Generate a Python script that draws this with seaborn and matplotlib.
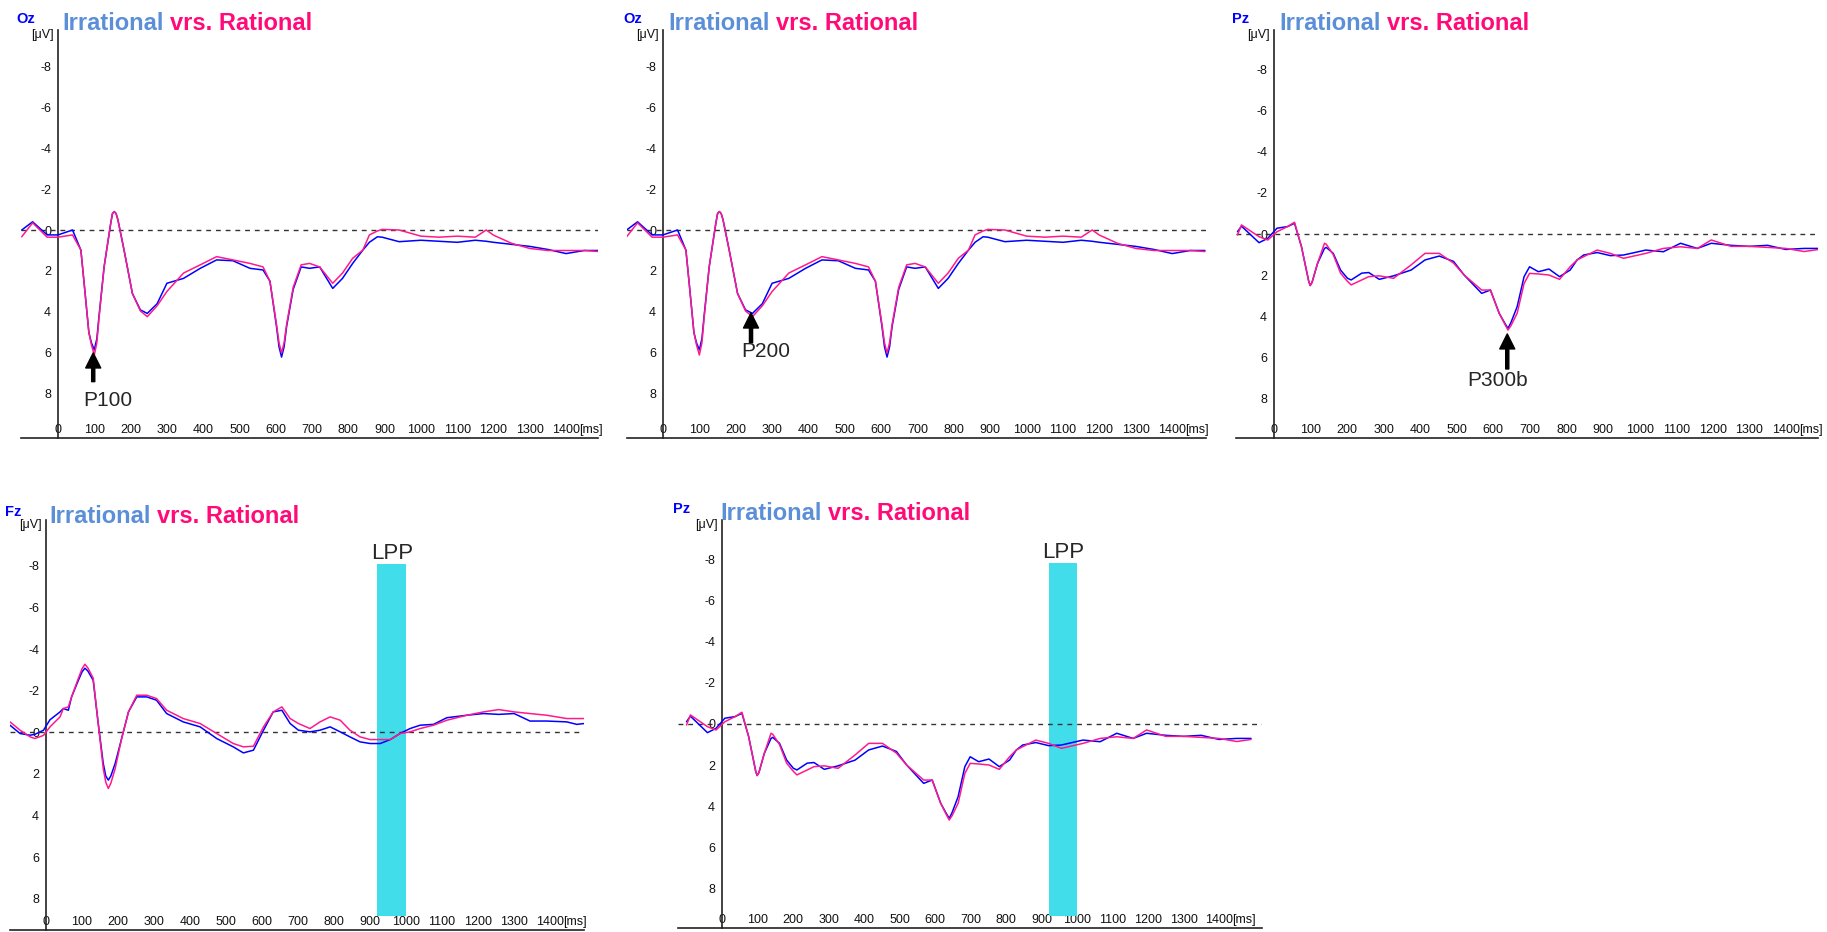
import matplotlib
matplotlib.use("Agg")
import matplotlib.pyplot as plt
import pandas as pd
import seaborn as sns

W, H = 1827, 932

BLUE = "#0000FF"
PINK = "#FF1A8C"
TITLE_BLUE = "#5B8FD8"
TITLE_PINK = "#FF0A78"
CYAN = "#42DDEB"

# Oz (occipital) grand averages, microvolts, negative plotted up
oz_t = [-100, -70, -30, 0, 40, 63, 72, 85, 92, 100, 107, 113, 127, 134, 145, 150, 155, 160, 165, 182,
        205, 227, 246, 273, 300, 346, 392, 437, 482, 529, 565, 584, 602, 609, 616, 623, 630,
        648, 670, 693, 721, 757, 784, 812, 840, 858, 880, 893, 940, 1000, 1050, 1100,
        1150, 1180, 1200, 1250, 1300, 1350, 1400, 1450, 1490]
oz_irr = [0.0, -0.4, 0.24, 0.24, 0.0, 0.98, 2.6, 5.0, 5.5, 5.85, 5.3, 4.2, 1.8, 0.98, -0.3, -0.8, -0.9, -0.8, -0.5, 0.98,
          3.1, 3.9, 4.07, 3.6, 2.6, 2.36, 1.87, 1.46, 1.5, 1.87, 1.95, 2.5, 4.7, 5.7, 6.2, 5.7, 4.7,
          2.9, 1.8, 1.87, 1.8, 2.85, 2.36, 1.63, 0.98, 0.6, 0.33, 0.35, 0.57, 0.5, 0.55, 0.6,
          0.5, 0.55, 0.6, 0.7, 0.8, 0.95, 1.15, 1.0, 1.0]
oz_rat = [0.33, -0.35, 0.35, 0.35, 0.24, 0.98, 2.6, 5.0, 5.6, 6.1, 5.5, 4.3, 1.8, 0.98, -0.3, -0.8, -0.9, -0.8, -0.5, 0.98,
          3.1, 3.95, 4.23, 3.7, 3.0, 2.1, 1.7, 1.3, 1.46, 1.63, 1.8, 2.5, 4.6, 5.5, 6.0, 5.5, 4.6,
          2.8, 1.7, 1.63, 1.8, 2.6, 2.1, 1.38, 0.98, 0.24, 0.05, -0.03, 0.0, 0.3, 0.35, 0.3,
          0.35, 0.0, 0.25, 0.65, 0.9, 1.0, 1.0, 1.0, 1.05]

# Pz (parietal)
pz_t = [-100, -89, -41, -17, 8, 37, 56, 75, 95, 99, 104, 119, 138, 143, 162, 182, 201, 211,
        240, 259, 288, 327, 375, 413, 452, 491, 520, 568, 592, 616, 632, 640, 648, 665, 684, 699,
        723, 752, 781, 810, 829, 847, 884, 920, 956, 1017, 1065, 1112, 1158, 1196, 1250,
        1300, 1350, 1400, 1450, 1490]
pz_irr = [-0.11, -0.38, 0.42, 0.21, -0.28, -0.36, -0.52, 0.61, 2.3, 2.5, 2.35, 1.43, 0.7, 0.65, 0.94, 1.75, 2.15, 2.23,
          1.9, 1.87, 2.2, 2.03, 1.75, 1.26, 1.07, 1.33, 1.99, 2.88, 2.72, 3.85, 4.35, 4.58, 4.3, 3.53, 2.07, 1.59,
          1.83, 1.7, 2.07, 1.75, 1.26, 1.02, 0.9, 1.05, 1.02, 0.78, 0.86, 0.45, 0.7, 0.45, 0.55,
          0.6, 0.55, 0.75, 0.7, 0.7]
pz_rat = [0.05, -0.44, 0.13, 0.29, -0.11, -0.36, -0.57, 0.61, 2.3, 2.5, 2.35, 1.43, 0.45, 0.5, 1.0, 1.9, 2.3, 2.47,
          2.23, 2.07, 2.03, 2.15, 1.5, 0.94, 0.94, 1.41, 1.99, 2.72, 2.72, 3.85, 4.4, 4.66, 4.45, 3.85, 2.4, 1.91,
          1.94, 1.99, 2.2, 1.59, 1.26, 1.1, 0.78, 0.94, 1.18, 0.94, 0.7, 0.62, 0.7, 0.29, 0.6,
          0.6, 0.65, 0.7, 0.85, 0.75]

# Fz (frontal)
fz_t = [-100, -72, -44, -31, -7, 11, 39, 48, 62, 71, 90, 100, 108, 116, 131, 145, 159, 166, 173, 180, 192,
        210, 229, 252, 280, 307, 335, 381, 428, 474, 520, 548, 576, 604, 631, 655, 678,
        701, 733, 761, 789, 817, 844, 872, 900, 928, 956, 983, 1011, 1039, 1076, 1113,
        1169, 1215, 1257, 1300, 1344, 1390, 1446, 1474, 1494]
fz_irr = [-0.34, 0.06, 0.14, 0.1, -0.1, -0.6, -0.98, -1.14, -1.06, -1.7, -2.5, -2.9, -3.08, -2.95, -2.5, -0.42, 1.5, 2.1, 2.3, 2.1, 1.5,
          0.3, -0.98, -1.7, -1.7, -1.54, -0.9, -0.5, -0.26, 0.3, 0.7, 0.99, 0.86, -0.1, -0.98, -1.06, -0.42,
          -0.1, -0.02, -0.1, -0.26, -0.02, 0.22, 0.46, 0.54, 0.54, 0.35, 0.06, -0.18, -0.34, -0.38, -0.7,
          -0.82, -0.9, -0.86, -0.9, -0.54, -0.54, -0.5, -0.38, -0.42]
fz_rat = [-0.5, -0.1, 0.22, 0.3, 0.15, -0.26, -0.74, -1.14, -1.22, -1.7, -2.6, -3.05, -3.27, -3.1, -2.6, -0.42, 1.75, 2.4, 2.7, 2.45, 1.75,
          0.3, -0.98, -1.78, -1.78, -1.62, -1.06, -0.66, -0.42, 0.06, 0.54, 0.7, 0.67, -0.26, -0.98, -1.22, -0.66,
          -0.42, -0.18, -0.5, -0.74, -0.58, -0.1, 0.22, 0.35, 0.35, 0.35, 0.06, -0.02, -0.18, -0.34, -0.58,
          -0.82, -0.98, -1.09, -0.98, -0.9, -0.82, -0.66, -0.66, -0.66]

Y_TICKS = [-8, -6, -4, -2, 0, 2, 4, 6, 8]
X_TICKS = list(range(0, 1401, 100))
LPP_WINDOW = (920, 1000)

sns.set_style("white")
plt.rcParams["font.family"] = ["Liberation Sans", "DejaVu Sans"]
plt.rcParams["axes.unicode_minus"] = False

fig = plt.figure(figsize=(W / 100, H / 100), dpi=100)


def add_axes_px(left, right, top, bottom):
    return fig.add_axes([left / W, 1 - bottom / H, (right - left) / W, (bottom - top) / H])


def draw_panel(ax, t, irr, rat, xlim, ylim):
    df = pd.DataFrame({
        "time": t + t,
        "uv": irr + rat,
        "cond": ["Irrational"] * len(t) + ["Rational"] * len(t),
    })
    sns.lineplot(data=df, x="time", y="uv", hue="cond", estimator=None,
                 palette={"Irrational": BLUE, "Rational": PINK},
                 linewidth=1.1, legend=False, ax=ax, zorder=3)
    ax.set_xlim(*xlim)
    ax.set_ylim(*ylim)  # (bottom, top) -> negative up
    ax.axhline(0, color="#333333", lw=1.0, ls=(0, (3.5, 3.5)), zorder=2)
    ax.set_xlabel("")
    ax.set_ylabel("")
    ax.patch.set_alpha(0)
    for s in ["top", "right"]:
        ax.spines[s].set_visible(False)
    ax.spines["left"].set_position(("data", 0))
    for s in ["left", "bottom"]:
        ax.spines[s].set_color("#222222")
        ax.spines[s].set_linewidth(1.2)
    ax.set_yticks(Y_TICKS)
    ax.set_yticks(range(-9, 10, 2), minor=True)
    ax.set_xticks(X_TICKS)
    ax.tick_params(axis="y", which="major", direction="out", length=4, width=1,
                   labelsize=9, pad=1, colors="#111111")
    ax.tick_params(axis="y", which="minor", direction="out", length=2.5, width=1, colors="#111111")
    ax.tick_params(axis="x", direction="in", length=5, width=1, labelsize=9, pad=-1.5,
                   colors="#111111")
    for lab in ax.get_xticklabels():
        lab.set_va("bottom")
    ax.annotate("[ms]", xy=(1436, 0), xycoords=("data", "axes fraction"),
                xytext=(0, 1.5), textcoords="offset points",
                ha="left", va="bottom", fontsize=9, color="#111111")
    ax.annotate("[μV]", xy=(0, 1), xycoords=("data", "axes fraction"),
                xytext=(-4, -5), textcoords="offset pixels",
                ha="right", va="center", fontsize=9, color="#111111")


def peak_arrow(ax, x, tip, tail, label, text_x, text_y):
    ax.annotate("", xy=(x, tip), xytext=(x, tail),
                arrowprops=dict(arrowstyle="simple,head_length=0.72,head_width=0.72,tail_width=0.15",
                                color="black", shrinkA=0, shrinkB=0, mutation_scale=15))
    ax.text(text_x, text_y, label, fontsize=15, ha="left", va="center")


def lpp_bar(ax, top, bottom):
    ax.fill_betweenx([top, bottom], LPP_WINDOW[0], LPP_WINDOW[1], color=CYAN, lw=0, zorder=1)
    ax.text(sum(LPP_WINDOW) / 2, top, "LPP", fontsize=16, ha="center", va="bottom")


# panel rectangles in pixels: left, right, top, bottom
ax_a = add_axes_px(21, 598, 30, 438)
draw_panel(ax_a, oz_t, oz_irr, oz_rat, (-102, 1488), (10.15, -9.76))
peak_arrow(ax_a, 97, 6.0, 7.4, "P100", 69, 8.3)

ax_b = add_axes_px(627, 1206, 30, 438)
draw_panel(ax_b, oz_t, oz_irr, oz_rat, (-99, 1493), (10.15, -9.76))
peak_arrow(ax_b, 242, 4.05, 5.5, "P200", 214, 5.95)

ax_c = add_axes_px(1236, 1818, 30, 438)
draw_panel(ax_c, pz_t, pz_irr, pz_rat, (-104, 1488), (9.9, -9.9))
peak_arrow(ax_c, 638, 4.85, 6.55, "P300b", 528, 7.1)

ax_d = add_axes_px(10, 584, 520, 930)
draw_panel(ax_d, fz_t, fz_irr, fz_rat, (-100, 1494), (9.5, -10.2))
lpp_bar(ax_d, -8.1, 8.85)

ax_e = add_axes_px(678, 1262, 520, 928)
draw_panel(ax_e, pz_t, pz_irr, pz_rat, (-124, 1521), (9.9, -9.9))
lpp_bar(ax_e, -7.8, 9.3)

# two-colour titles with electrode name
fig.canvas.draw()
renderer = fig.canvas.get_renderer()
titles = [
    ("Oz", 16, 23, 62, 30),
    ("Oz", 623, 23, 668, 30),
    ("Pz", 1232, 23, 1279, 30),
    ("Fz", 5, 516, 49, 523),
    ("Pz", 673, 513, 720, 520),
]
for name, nx, nbase, tx, tbase in titles:
    fig.text(nx / W, 1 - nbase / H, name, color=BLUE, fontsize=10.5, fontweight="bold", va="baseline")
    t1 = fig.text(tx / W, 1 - tbase / H, "Irrational", color=TITLE_BLUE, fontsize=17,
                  fontweight="bold", va="baseline")
    bb = t1.get_window_extent(renderer=renderer)
    fig.text((bb.x1 + 7) / W, 1 - tbase / H, "vrs. Rational", color=TITLE_PINK, fontsize=17,
             fontweight="bold", va="baseline")

fig.savefig("out.png", dpi=100)
